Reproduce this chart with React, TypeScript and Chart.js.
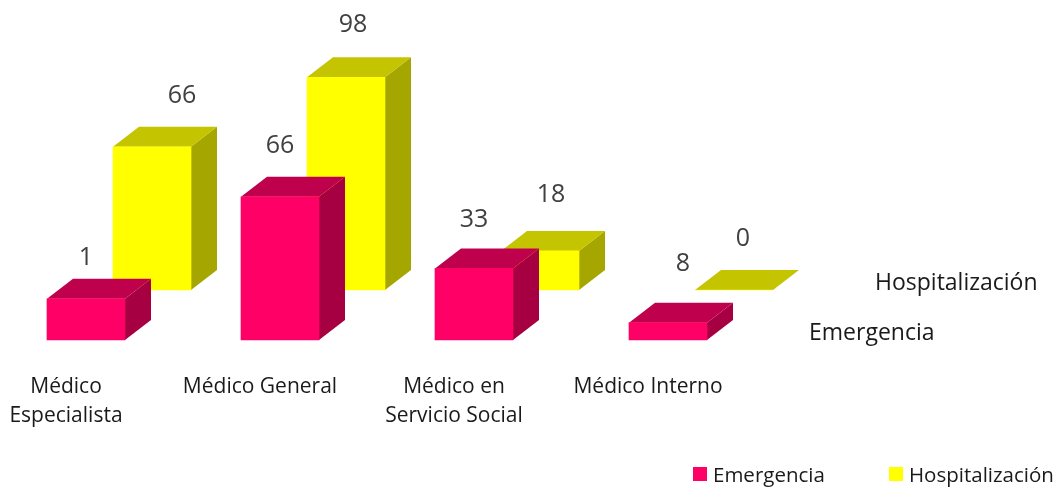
import React, { useEffect, useRef } from "react";
import { Chart, registerables } from "chart.js";

Chart.register(...registerables);

const categories: (string | string[])[] = [
  ["Médico", "Especialista"],
  "Médico General",
  ["Médico en", "Servicio Social"],
  "Médico Interno",
];
const seriesNames = ["Emergencia", "Hospitalización"];
// Bar heights as drawn in the picture
const emergenciaValues = [19, 66, 33, 8];
const hospitalizacionValues = [66, 98, 18, 0];
// Value labels as printed in the picture
const emergenciaLabels = ["1", "66", "33", "8"];
const hospitalizacionLabels = ["66", "98", "18", "0"];

const FONT = "'Open Sans'";
const TEXT = "#1a1a1a";
const LABEL_TEXT = "#404040";
const DEPTH_X = 26;
const DEPTH_Y = 20;
const SERIES_SHIFT = [
  { x: 0, y: 0 },
  { x: 66, y: -50 },
];
const FACES = [
  { front: "#FF0066", top: "#BF004D", side: "#A60042" },
  { front: "#FFFF00", top: "#C4C400", side: "#A6A600" },
];
const LABEL_OFFSETS = [
  [
    { x: 0, y: -41 },
    { x: 0, y: -51 },
    { x: 0, y: -49 },
    { x: 15, y: -59 },
  ],
  [
    { x: 30, y: -51 },
    { x: 7, y: -52 },
    { x: 11, y: -56 },
    { x: 9, y: -51 },
  ],
];
const DEPTH_TITLES = [
  { x: 809, y: 333 },
  { x: 875, y: 283 },
];
const LEGEND_ITEMS = [
  { box: 693, text: 713 },
  { box: 889, text: 909 },
];

const threeD = {
  id: "threeD",
  beforeDatasetDraw(chart: any, args: any) {
    const i = args.index;
    const { ctx } = chart;
    const shift = SERIES_SHIFT[i];
    ctx.save();
    ctx.translate(shift.x, shift.y);
    args.meta.data.forEach((bar: any) => {
      const { x, y, base, width } = bar.getProps(["x", "y", "base", "width"], true);
      const l = x - width / 2;
      const r = x + width / 2;
      ctx.fillStyle = FACES[i].side;
      ctx.beginPath();
      ctx.moveTo(r, y);
      ctx.lineTo(r + DEPTH_X, y - DEPTH_Y);
      ctx.lineTo(r + DEPTH_X, base - DEPTH_Y);
      ctx.lineTo(r, base);
      ctx.closePath();
      ctx.fill();
      ctx.fillStyle = FACES[i].top;
      ctx.beginPath();
      ctx.moveTo(l, y);
      ctx.lineTo(l + DEPTH_X, y - DEPTH_Y);
      ctx.lineTo(r + DEPTH_X, y - DEPTH_Y);
      ctx.lineTo(r, y);
      ctx.closePath();
      ctx.fill();
    });
  },
  afterDatasetDraw(chart: any) {
    chart.ctx.restore();
  },
  afterDatasetsDraw(chart: any) {
    const { ctx } = chart;
    const printed = [emergenciaLabels, hospitalizacionLabels];
    ctx.save();
    ctx.textBaseline = "middle";
    ctx.textAlign = "center";
    ctx.font = `25px ${FONT}`;
    ctx.fillStyle = LABEL_TEXT;
    chart.data.datasets.forEach((_: any, i: number) => {
      chart.getDatasetMeta(i).data.forEach((bar: any, j: number) => {
        const off = LABEL_OFFSETS[i][j];
        ctx.fillText(printed[i][j], bar.x + SERIES_SHIFT[i].x + off.x, bar.y + SERIES_SHIFT[i].y + off.y);
      });
    });
    ctx.textAlign = "left";
    ctx.fillStyle = TEXT;
    ctx.font = `23px ${FONT}`;
    seriesNames.forEach((name, i) => {
      ctx.fillText(name, DEPTH_TITLES[i].x, DEPTH_TITLES[i].y);
    });
    ctx.font = `20.5px ${FONT}`;
    seriesNames.forEach((name, i) => {
      ctx.fillStyle = FACES[i].front;
      ctx.fillRect(LEGEND_ITEMS[i].box, 467, 14, 14);
      ctx.fillStyle = TEXT;
      ctx.fillText(name, LEGEND_ITEMS[i].text, 476);
    });
    ctx.restore();
  },
};

export default function App() {
  const ref = useRef<HTMLCanvasElement>(null);
  useEffect(() => {
    const chart = new Chart(ref.current!, {
      type: "bar",
      data: {
        labels: categories as any,
        datasets: [
          {
            label: seriesNames[0],
            data: emergenciaValues,
            backgroundColor: FACES[0].front,
            order: 1,
            clip: false as any,
          },
          {
            label: seriesNames[1],
            data: hospitalizacionValues,
            backgroundColor: FACES[1].front,
            order: 2,
            clip: false as any,
          },
        ],
      },
      plugins: [threeD],
      options: {
        animation: false,
        responsive: false,
        layout: { padding: { left: 86, right: 391, top: 14.5, bottom: 0 } },
        datasets: { bar: { grouped: false, barThickness: 78 } },
        plugins: { legend: { display: false }, tooltip: { enabled: false } },
        scales: {
          x: {
            offset: false,
            grid: { display: false, drawTicks: false },
            border: { display: false },
            afterFit: (s: any) => {
              s.height = 147;
              s.paddingLeft = 0;
              s.paddingRight = 0;
            },
            ticks: {
              autoSkip: false,
              maxRotation: 0,
              minRotation: 0,
              padding: 33,
              labelOffset: -20,
              color: TEXT,
              font: { family: "Open Sans", size: 21, lineHeight: 1.38 },
            },
          },
          y: { display: false, min: 0, max: 150 },
        },
      },
    } as any);
    return () => chart.destroy();
  }, []);
  return (
    <div style={{ position: "absolute", left: 0, top: 0, width: 1059, height: 487, background: "#fff" }}>
      <canvas ref={ref} width={1059} height={487} style={{ display: "block" }} />
    </div>
  );
}
